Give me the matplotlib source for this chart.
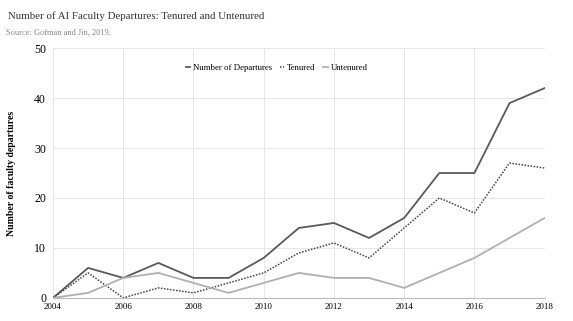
import matplotlib
matplotlib.use("Agg")
import matplotlib.pyplot as plt
from matplotlib.lines import Line2D

years = list(range(2004, 2019))
total = [0, 6, 4, 7, 4, 4, 8, 14, 15, 12, 16, 25, 25, 39, 42]
tenured = [0, 5, 0, 2, 1, 3, 5, 9, 11, 8, 14, 20, 17, 27, 26]
untenured = [0, 1, 4, 5, 3, 1, 3, 5, 4, 4, 2, 5, 8, 12, 16]
x_ticks = [2004, 2006, 2008, 2010, 2012, 2014, 2016, 2018]
y_ticks = [0, 10, 20, 30, 40, 50]

plt.rcParams["font.family"] = ["Liberation Serif", "DejaVu Serif"]

fig = plt.figure(figsize=(5.73, 3.21), dpi=100)
ax = fig.add_axes([0.0925, 0.072, 0.858, 0.778])

ax.plot(years, total, color="#5a5a5a", lw=1.3, label="Number of Departures")
ax.plot(years, tenured, color="#444444", lw=1.1, ls=(0, (1, 1)), label="Tenured")
ax.plot(years, untenured, color="#b0b0b0", lw=1.3, label="Untenured")

ax.set_xlim(2004, 2018)
ax.set_ylim(0, 50)
ax.set_xticks(x_ticks)
ax.set_yticks(y_ticks)
ax.grid(True, color="#e6e6e6", lw=0.7)
ax.set_axisbelow(True)
for s in ["top", "right", "left"]:
    ax.spines[s].set_visible(False)
ax.spines["bottom"].set_color("#bbbbbb")
ax.tick_params(axis="x", length=0, labelsize=6.5, pad=4)
ax.tick_params(axis="y", length=0, labelsize=8.5, pad=5)
ax.set_ylabel("Number of faculty departures", fontsize=7, fontweight="bold", labelpad=13)

handles = [Line2D([], [], color="#5a5a5a", lw=1.3),
           Line2D([], [], color="#444444", lw=1.1, ls=(0, (1, 1))),
           Line2D([], [], color="#b0b0b0", lw=1.3)]
ax.legend(handles, ["Number of Departures", "Tenured", "Untenured"],
          loc="upper center", bbox_to_anchor=(0.455, 0.97), ncol=3, frameon=False,
          fontsize=6.3, handlelength=0.5, handletextpad=0.3, columnspacing=0.9)

fig.text(0.014, 0.94, "Number of AI Faculty Departures: Tenured and Untenured",
         fontsize=7.8, color="#333333")
fig.text(0.011, 0.893, "Source: Gofman and Jin, 2019.", fontsize=6, color="#888888")

fig.savefig("out.png", dpi=100, facecolor="white")
